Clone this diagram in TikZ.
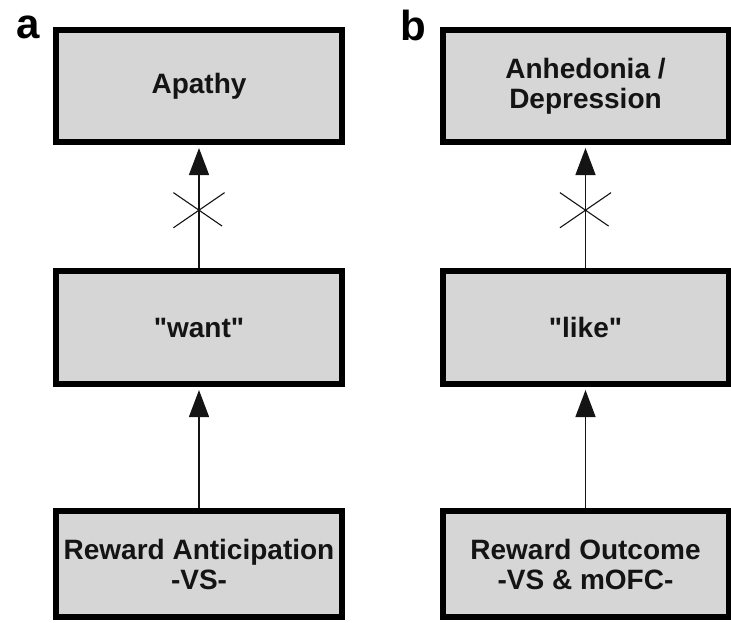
\documentclass[tikz,border=0pt]{standalone}
\usepackage{fontspec}
\setmainfont{Liberation Sans}
% a family without the TeX mapping, so that " stays a straight quote
\newfontfamily\boxfont{Liberation Sans}
\usetikzlibrary{arrows.meta,shapes.misc}
\definecolor{boxgray}{RGB}{214,214,214}
\definecolor{ink}{RGB}{20,20,20}
\tikzset{
  stagebox/.style={draw=black, line width=6pt, fill=boxgray, text=ink,
    font=\boxfont\fontsize{28}{30}\selectfont\bfseries, align=center,
    minimum width=286pt, inner sep=0pt},
  linkarrow/.style={line width=1.4pt, draw=ink,
    -{Triangle[length=27pt,width=20pt]}, shorten >=3pt},
  blocked/.style={cross out, draw=ink, line width=1.1pt,
    minimum width=50pt, minimum height=34pt, inner sep=0pt},
  panel/.style={font=\fontsize{42}{42}\selectfont\bfseries, text=black,
    inner sep=0pt, anchor=base west}
}
\begin{document}
\begin{tikzpicture}[x=1pt,y=1pt]
  \useasboundingbox (0,0) rectangle (731,-622);

  % panel labels
  \node[panel] (la) at (16,-38) {a};
  \node[panel] (lb) at (400,-40) {b};

  % panel a: wanting
  \node[stagebox, minimum height=112pt] (ta) at (199,-86) {Apathy};
  \node[stagebox, minimum height=113pt] (ma) at (199,-327.5) {"want"};
  \node[stagebox, minimum height=106pt] (ba) at (199,-564) {Reward Anticipation\\-VS-};

  % panel b: liking
  \node[stagebox, minimum height=112pt] (tb) at (585.5,-86) {Anhedonia /\\Depression};
  \node[stagebox, minimum height=113pt] (mb) at (585.5,-327.5) {"like"};
  \node[stagebox, minimum height=106pt] (bb) at (585.5,-564) {Reward Outcome\\-VS \& mOFC-};

  % links, the upper ones crossed out
  \draw[linkarrow] (ma.north) -- node[blocked, pos=0.47] (xa) {} (ta.south);
  \draw[linkarrow] (ba.north) -- (ma.south);
  \draw[linkarrow] (mb.north) -- node[blocked, pos=0.47] (xb) {} (tb.south);
  \draw[linkarrow] (bb.north) -- (mb.south);
\end{tikzpicture}
\end{document}
